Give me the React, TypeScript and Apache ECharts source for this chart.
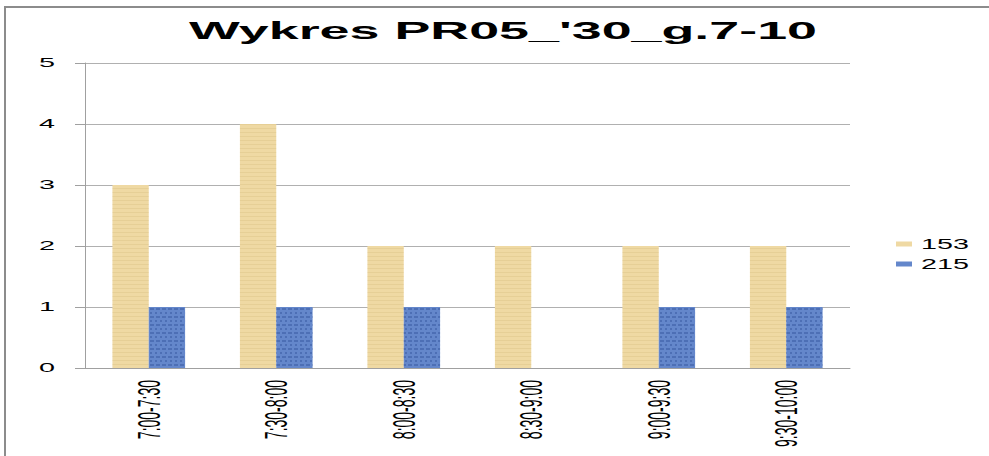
import React, { useEffect, useRef } from "react";
import * as echarts from "echarts";

const categories = ["7:00-7:30", "7:30-8:00", "8:00-8:30", "8:30-9:00", "9:00-9:30", "9:30-10:00"];
const series153 = [3, 4, 2, 2, 2, 2];
const series215 = [1, 1, 1, 0, 1, 1];
const seriesNames = ["153", "215"];
const yTicks = [0, 1, 2, 3, 4, 5];
const title = "Wykres PR05_'30_g.7-10";

const COLORS = ["#EFD9A3", "#6487CB"];
const FONT = "Liberation Sans";
const STRETCH = 2.3;

export default function App() {
  const ref = useRef<HTMLDivElement>(null);
  useEffect(() => {
    document.body.style.margin = "0";
    const chart = echarts.init(ref.current!, null, { renderer: "svg" });
    chart.setOption({
      animation: false,
      backgroundColor: "#ffffff",
      legend: { show: false, data: seriesNames },
      grid: { left: 85, right: 139, top: 63, bottom: 88 },
      xAxis: {
        type: "category",
        data: categories,
        axisLine: { lineStyle: { color: "#a0a0a0", width: 1 } },
        axisTick: { show: false },
        axisLabel: { show: false },
      },
      yAxis: {
        type: "value",
        min: 0,
        max: 5,
        interval: 1,
        axisLine: { show: true, lineStyle: { color: "#a0a0a0" } },
        axisTick: { show: true, length: 10, lineStyle: { color: "#a0a0a0" } },
        splitLine: { lineStyle: { color: "#b0b0b0" } },
        axisLabel: { show: false },
      },
      series: [
        {
          name: seriesNames[0],
          type: "bar",
          data: series153,
          barGap: "0%",
          barCategoryGap: "43%",
          itemStyle: {
            color: COLORS[0],
            decal: {
              symbol: "rect",
              symbolSize: 1,
              color: "rgba(205,175,110,0.25)",
              dashArrayX: [[1, 0]],
              dashArrayY: [1, 3],
              rotation: 0,
            },
          },
        },
        {
          name: seriesNames[1],
          type: "bar",
          data: series215,
          itemStyle: {
            color: COLORS[1],
            decal: {
              symbol: "rect",
              symbolSize: 1,
              color: "rgba(35,65,140,0.35)",
              dashArrayX: [[4, 2], [2, 3]],
              dashArrayY: [2, 2],
              rotation: 0,
            },
          },
        },
      ],
    });

    const graphics: any[] = [
      {
        type: "rect",
        shape: { x: 5, y: 7, width: 1000, height: 480 },
        style: { fill: "none", stroke: "#8c8c8c", lineWidth: 2 },
        silent: true,
      },
      {
        type: "text",
        x: 503,
        y: 31,
        scaleX: 2.34,
        style: {
          text: title,
          fontFamily: FONT,
          fontWeight: "bold",
          fontSize: 23,
          fill: "#000",
          textAlign: "center",
          textVerticalAlign: "middle",
        },
      },
    ];

    yTicks.forEach((v) => {
      const py = chart.convertToPixel({ yAxisIndex: 0 }, v) as number;
      graphics.push({
        type: "text",
        x: 55,
        y: py,
        scaleX: STRETCH,
        style: {
          text: String(v),
          fontFamily: FONT,
          fontSize: 12.5,
          fill: "#000",
          textAlign: "right",
          textVerticalAlign: "middle",
        },
      });
    });

    categories.forEach((c, i) => {
      const px = chart.convertToPixel({ xAxisIndex: 0 }, i) as number;
      graphics.push({
        type: "text",
        x: px,
        y: 380,
        rotation: Math.PI / 2,
        scaleY: STRETCH,
        style: {
          text: c,
          fontFamily: FONT,
          fontSize: 14,
          fill: "#000",
          textAlign: "right",
          textVerticalAlign: "middle",
        },
      });
    });

    seriesNames.forEach((n, i) => {
      const cy = 244 + i * 20;
      graphics.push({
        type: "rect",
        shape: { x: 896, y: cy - 2.5, width: 16, height: 5 },
        style: { fill: COLORS[i] },
      });
      graphics.push({
        type: "text",
        x: 921,
        y: cy,
        scaleX: 2.05,
        style: {
          text: n,
          fontFamily: FONT,
          fontSize: 14,
          fill: "#000",
          textAlign: "left",
          textVerticalAlign: "middle",
        },
      });
    });

    chart.setOption({ graphic: graphics });
    return () => chart.dispose();
  }, []);
  return <div ref={ref} style={{ width: 989, height: 456 }} />;
}
